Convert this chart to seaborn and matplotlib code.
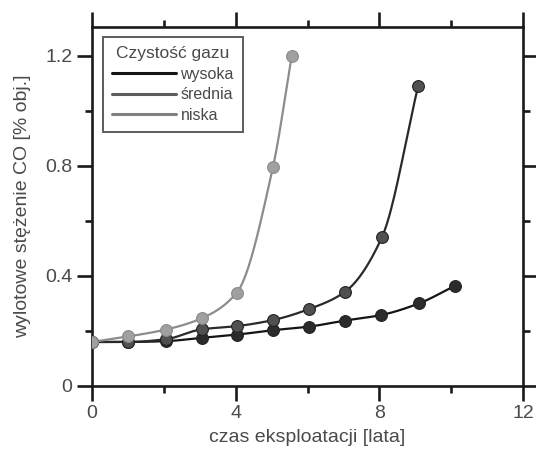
import numpy as np
import pandas as pd
import matplotlib
matplotlib.use("Agg")
import matplotlib.pyplot as plt
from matplotlib.lines import Line2D
from matplotlib.ticker import MultipleLocator
import seaborn as sns

# ---- data ----
x_wysoka = [0, 1.0, 2.05, 3.05, 4.05, 5.05, 6.05, 7.05, 8.05, 9.1, 10.1]
y_wysoka = [0.16, 0.16, 0.163, 0.175, 0.187, 0.203, 0.216, 0.238, 0.258, 0.30, 0.364]

x_srednia = [0, 1.0, 2.05, 3.05, 4.05, 5.05, 6.05, 7.05, 8.07, 9.08]
y_srednia = [0.16, 0.16, 0.17, 0.206, 0.218, 0.24, 0.28, 0.343, 0.54, 1.09]

x_niska = [0, 1.0, 2.05, 3.05, 4.03, 5.04, 5.56]
y_niska = [0.16, 0.18, 0.205, 0.246, 0.339, 0.797, 1.20]

series_names = ["wysoka", "średnia", "niska"]
legend_title = "Czystość gazu"
x_label = "czas eksploatacji [lata]"
y_label = "wylotowe stężenie CO [% obj.]"
x_ticks = [0, 4, 8, 12]
y_ticks = [0, 0.4, 0.8, 1.2]
y_ticklabels = ["0", "0.4", "0.8", "1.2"]

line_colors = ["#151515", "#2a2a2a", "#8c8c8c"]
marker_colors = ["#2b2b2b", "#505050", "#a0a0a0"]
legend_colors = ["#151515", "#5c5c5c", "#808080"]
text_color = "#4a4a4a"


def pchip(x, y, n=300):
    """Shape-preserving smooth curve through the given points (for drawing the line)."""
    x = np.asarray(x, float)
    y = np.asarray(y, float)
    h = np.diff(x)
    d = np.diff(y) / h
    m = np.zeros_like(y)
    for k in range(1, len(x) - 1):
        if d[k - 1] * d[k] <= 0:
            m[k] = 0
        else:
            w1 = 2 * h[k] + h[k - 1]
            w2 = h[k] + 2 * h[k - 1]
            m[k] = (w1 + w2) / (w1 / d[k - 1] + w2 / d[k])
    m[0] = d[0]
    m[-1] = d[-1]
    xs = np.linspace(x[0], x[-1], n)
    idx = np.clip(np.searchsorted(x, xs) - 1, 0, len(x) - 2)
    t = (xs - x[idx]) / h[idx]
    h00 = 2 * t**3 - 3 * t**2 + 1
    h10 = t**3 - 2 * t**2 + t
    h01 = -2 * t**3 + 3 * t**2
    h11 = t**3 - t**2
    ys = h00 * y[idx] + h10 * h[idx] * m[idx] + h01 * y[idx + 1] + h11 * h[idx] * m[idx + 1]
    return xs, ys


sns.set_theme(style="ticks")
plt.rcParams["font.family"] = ["Liberation Sans", "DejaVu Sans"]
plt.rcParams["text.color"] = text_color
plt.rcParams["axes.labelcolor"] = text_color

fig = plt.figure(figsize=(5.36, 4.5), dpi=100)
ax = fig.add_axes([92 / 536, (450 - 386) / 450, (523 - 92) / 536, (386 - 27) / 450])

data = [(x_wysoka, y_wysoka), (x_srednia, y_srednia), (x_niska, y_niska)]
for i, (xs, ys) in enumerate(data):
    cx, cy = pchip(xs, ys)
    curve = pd.DataFrame({"x": cx, "y": cy})
    sns.lineplot(data=curve, x="x", y="y", ax=ax, color=line_colors[i],
                 linewidth=1.6, sort=False, zorder=2 + i)
    pts = pd.DataFrame({"x": xs, "y": ys})
    sns.scatterplot(data=pts, x="x", y="y", ax=ax, color=marker_colors[i],
                    s=72, edgecolor="#222222" if i < 2 else "#8a8a8a",
                    linewidth=0.8, zorder=5 + i)

ax.set_xlim(0, 12)
ax.set_ylim(0, 1.305)
ax.set_xticks(x_ticks)
ax.set_yticks(y_ticks)
ax.set_yticklabels(y_ticklabels)
ax.xaxis.set_minor_locator(MultipleLocator(2))
ax.yaxis.set_minor_locator(MultipleLocator(0.2))

for sp in ax.spines.values():
    sp.set_visible(True)
    sp.set_linewidth(1.9)
    sp.set_color("#1a1a1a")

ax.tick_params(which="both", direction="out", top=True, right=True,
               labeltop=False, labelright=False, color="#1a1a1a", width=1.9)
ax.tick_params(which="major", length=11, labelsize=14, labelcolor=text_color, pad=3)
ax.tick_params(which="minor", length=5)

ax.set_xlabel(x_label, fontsize=14, color=text_color, labelpad=5)
ax.set_ylabel(y_label, fontsize=14, color=text_color, labelpad=10)

handles = [Line2D([0], [0], color=c, linewidth=2.2) for c in legend_colors]
leg = ax.legend(handles, series_names, title=legend_title, loc="upper left",
                bbox_to_anchor=(11 / 431, 1 - 10 / 359), frameon=True, fancybox=False,
                fontsize=11.5, title_fontsize=12.5, handlelength=4.0,
                handletextpad=0.3, labelspacing=0.36, borderpad=0.55,
                borderaxespad=0, alignment="center")
leg.get_frame().set_edgecolor("#333333")
leg.get_frame().set_linewidth(1.4)
for t in leg.get_texts():
    t.set_color(text_color)
leg.get_title().set_color(text_color)

fig.savefig("out.png", dpi=100)
